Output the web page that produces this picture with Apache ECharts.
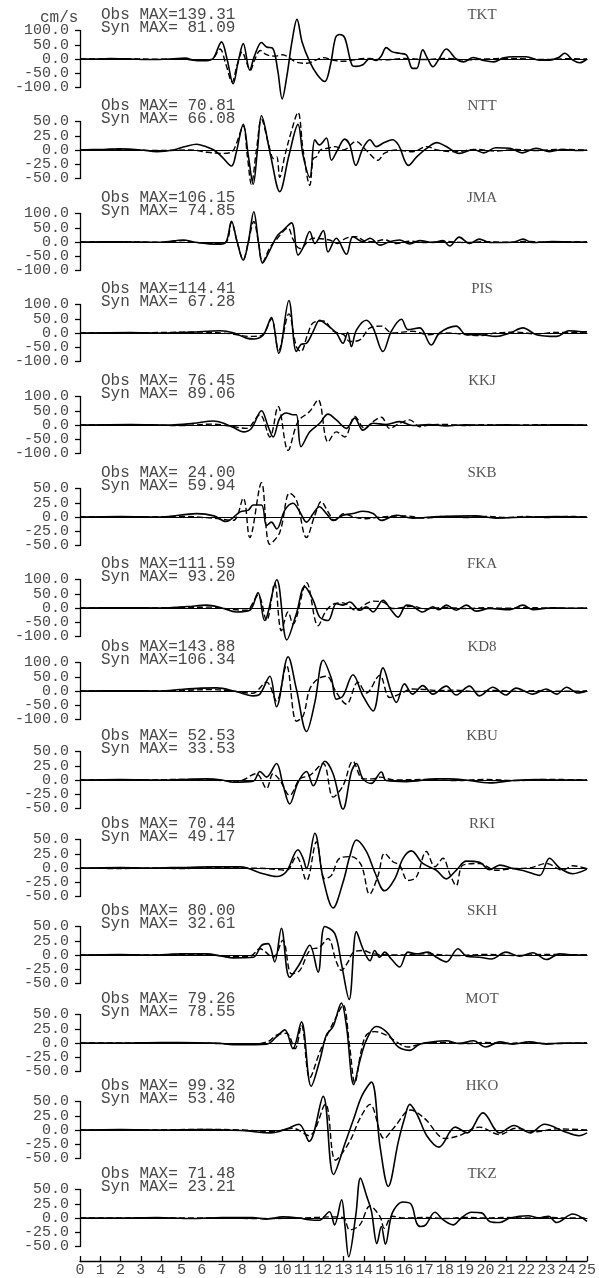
<!DOCTYPE html>
<html>
<head>
<meta charset="utf-8">
<script src="https://cdn.jsdelivr.net/npm/echarts@6/dist/echarts.min.js"></script>
<style>html,body{margin:0;padding:0;background:#fff}#c{width:599px;height:1278px}</style>
</head>
<body>
<div id="c"></div>
<script>
// ---- data ----
const stations = ['TKT','NTT','JMA','PIS','KKJ','SKB','FKA','KD8','KBU','RKI','SKH','MOT','HKO','TKZ'];
const obsMax = ['139.31',' 70.81','106.15','114.41',' 76.45',' 24.00','111.59','143.88',' 52.53',' 70.44',' 80.00',' 79.26',' 99.32',' 71.48'];
const synMax = [' 81.09',' 66.08',' 74.85',' 67.28',' 89.06',' 59.94',' 93.20','106.34',' 33.53',' 49.17',' 32.61',' 78.55',' 53.40',' 23.21'];
const axisMax = [100,50,100,100,100,50,100,100,50,50,50,50,50,50];
const timeTicks = [0,1,2,3,4,5,6,7,8,9,10,11,12,13,14,15,16,17,18,19,20,21,22,23,24,25];

const obsTKT = [[0,0],[1,0],[1.5,2],[2.5,0],[3.5,-2],[4.5,0],[5.2,3],[5.6,-4],[6.0,-6],[6.4,-4],[6.6,5],[6.98,60],[7.25,0],[7.55,-87],[7.8,-10],[8.05,54],[8.37,-39],[8.6,10],[8.95,58],[9.2,42],[9.5,38],[9.75,-40],[9.97,-140],[10.2,-60],[10.45,60],[10.7,139],[10.95,60],[11.33,-10],[11.7,-55],[12.07,-79],[12.35,-20],[12.6,75],[12.8,86],[13.05,75],[13.4,-20],[13.6,-26],[13.95,-20],[14.3,2],[14.6,-5],[14.85,10],[15.1,40],[15.4,25],[15.76,20],[16.1,14],[16.4,-33],[16.6,-33],[16.9,32],[17.15,0],[17.4,-27],[17.7,0],[18.06,35],[18.55,0],[18.9,-10],[19.4,5],[19.9,-5],[20.4,-10],[20.85,3],[21.35,8],[22.0,8],[22.66,-4],[23.15,-4],[23.6,5],[23.9,20],[24.3,-4],[24.63,-13],[25,0]];
const synTKT = [[0,0],[2,1],[4,-1],[5,0],[5.5,-3],[6.3,-5],[6.6,5],[6.9,35],[7.2,-20],[7.5,-81],[7.75,-20],[8.0,25],[8.2,-10],[8.4,-40],[8.6,-5],[8.9,30],[9.2,15],[9.6,10],[10.0,15],[10.3,5],[10.7,-12],[11.2,-15],[11.6,-5],[12.0,5],[12.5,-5],[13.0,-8],[13.5,-3],[14,2],[15,-3],[16,2],[17,-2],[18,2],[19,-3],[20,0],[21,2],[22,0],[23,-2],[24,1],[25,0]];

const obsNTT = [[0,0],[1,1],[2,2],[3,0],[3.8,-3],[4.6,0],[5.2,6],[5.75,10],[6.2,6],[6.6,0],[7.0,-12],[7.47,-28],[7.7,-5],[8.05,45],[8.3,-10],[8.54,-60],[8.75,0],[8.95,60],[9.4,-10],[9.85,-73],[10.3,-10],[10.75,45],[11.0,-10],[11.33,-48],[11.58,18],[11.8,9],[12.15,21],[12.4,-18],[12.7,0],[13.05,19],[13.3,9],[13.6,-27],[13.95,3],[14.3,18],[14.6,6],[15.0,13],[15.4,18],[15.7,9],[16.2,-27],[16.6,-12],[17.1,3],[17.6,13],[18.06,6],[18.7,-6],[19.4,1],[19.9,-5],[20.5,4],[21.2,3],[21.8,-5],[22.5,3],[23.15,-3],[23.8,1],[24.6,-1],[25,0]];
const synNTT = [[0,0],[2,1],[4,-1],[5.5,0],[6.3,-4],[7.0,-6],[7.5,-3],[7.7,10],[8.05,42],[8.25,-10],[8.45,-60],[8.7,0],[8.95,54],[9.3,10],[9.55,-15],[9.7,-12],[9.85,-48],[10.1,-10],[10.4,30],[10.75,66],[11.0,0],[11.33,-62],[11.5,-15],[11.66,-12],[11.85,0],[12.2,3],[12.6,6],[13.0,0],[13.6,15],[14.1,0],[14.7,-18],[15.0,-6],[15.6,0],[16.4,-3],[17.1,6],[17.6,0],[18.5,-3],[19.5,1],[20.5,-2],[21.5,1],[22.5,-1],[23.5,1],[25,0]];

const obsJMA = [[0,0],[2,1],[4,-1],[5.1,7],[5.6,0],[6.2,-5],[6.8,-8],[7.2,0],[7.47,73],[7.75,0],[8.05,-64],[8.3,0],[8.57,106],[8.8,0],[9.0,-74],[9.36,-29],[9.7,19],[10.0,40],[10.43,67],[10.75,-46],[11.0,-20],[11.33,37],[11.58,-5],[12.0,40],[12.23,-35],[12.64,13],[13.14,-43],[13.46,19],[13.95,1],[14.3,13],[14.8,-11],[15.27,1],[15.76,7],[16.26,-7],[16.75,5],[17.4,-2],[17.9,5],[18.23,-14],[18.7,17],[19.2,-5],[19.7,10],[20.2,-2],[21.35,-1],[21.85,10],[22.3,-2],[23.3,2],[24.3,0],[25,0]];
const synJMA = [[0,0],[2,1],[4,-1],[5.1,5],[5.6,0],[6.5,-6],[7.2,0],[7.47,68],[7.75,0],[8.05,-62],[8.3,0],[8.57,72],[8.8,0],[9.0,-70],[9.36,-20],[9.7,10],[10.26,49],[10.5,10],[10.84,-23],[11.5,13],[12.3,7],[12.7,-5],[13.1,13],[13.6,19],[14.0,5],[14.45,1],[15.0,8],[15.6,-5],[16.3,3],[17.0,-2],[18,2],[19,-2],[20,1],[21,-1],[22,2],[23,-1],[24,1],[25,0]];

const obsPIS = [[0,0],[2.5,2],[4,0],[5.5,3],[6.9,8],[7.6,0],[8.2,-18],[8.6,-21],[8.9,-15],[9.1,0],[9.44,54],[9.8,-71],[10.3,114],[10.67,-65],[10.9,-40],[11.17,-36],[11.5,6],[11.82,45],[12.15,30],[12.64,0],[12.97,-36],[13.2,2],[13.38,-48],[13.63,10],[14.12,45],[14.45,18],[14.94,-65],[15.35,6],[15.85,48],[16.17,12],[16.75,18],[17.32,-42],[17.73,0],[18.55,24],[19.05,-6],[19.7,-6],[20.5,-12],[21.2,0],[21.84,18],[22.5,-6],[23.5,-12],[24.1,8],[24.6,5],[25,4]];
const synPIS = [[0,0],[3,1],[6,3],[7.5,-3],[8.3,-12],[8.9,-10],[9.1,0],[9.44,50],[9.8,-60],[10.3,67],[10.67,-48],[10.9,-65],[11.2,-10],[11.5,36],[12.0,42],[12.5,6],[13.0,-6],[13.3,-30],[13.8,-24],[14.3,18],[14.86,24],[15.4,0],[16.4,6],[17.2,-6],[18.06,0],[19.7,-9],[20.5,0],[21.5,3],[22.5,-3],[23.5,2],[25,0]];

const obsKKJ = [[0,0],[2.5,2],[4.5,0],[5.6,6],[6.57,14],[7.2,3],[7.6,-10],[8.05,-24],[8.45,-12],[8.95,50],[9.28,-6],[9.52,-42],[9.85,24],[10.18,42],[10.5,36],[10.67,36],[10.9,-76],[11.33,-24],[11.82,6],[12.23,38],[12.64,18],[13.14,-12],[13.55,24],[13.95,-18],[14.45,6],[15.1,2],[15.76,12],[16.4,-2],[17.2,2],[18.06,-3],[19,1],[20,-1],[21,1],[22,-1],[23,0],[24,1],[25,0]];
const synKKJ = [[0,0],[3,0],[5,-2],[6.5,3],[7.5,-5],[8.2,-12],[8.87,36],[9.36,-42],[9.77,65],[10.26,-89],[10.75,12],[11.33,48],[11.74,89],[12.23,-60],[12.64,-24],[13.05,-42],[13.55,30],[14.04,-12],[14.45,12],[14.86,27],[15.27,-12],[15.76,6],[16.26,18],[16.75,-6],[17.24,0],[18.06,2],[19,-2],[20,1],[21,-1],[22,0],[23,1],[24,-1],[25,0]];

const obsSKB = [[0,0],[2,1],[4,0],[5.75,6],[6.6,2],[7.2,-8],[7.9,9],[8.3,12],[8.54,21],[8.95,21],[9.2,-15],[9.44,-9],[9.7,-21],[10.1,12],[10.5,24],[10.84,9],[11.17,-9],[11.5,6],[11.8,18],[12.15,6],[12.48,-6],[12.97,3],[13.46,6],[13.95,10],[14.45,6],[14.86,-6],[15.6,3],[16.4,-2],[17.7,1],[19.5,2],[20.5,-2],[22,0],[23.5,1],[25,0]];
const synSKB = [[0,0],[3,0],[5,1],[6.5,-2],[7.55,-6],[8.05,33],[8.37,-36],[8.95,60],[9.36,-48],[9.85,-27],[10.34,42],[10.67,30],[11.17,-36],[11.58,3],[11.9,27],[12.23,9],[12.56,-6],[13.0,6],[13.5,0],[14.1,-3],[14.8,0],[16,2],[17,-2],[18,1],[19,-1],[20,1],[21,-1],[22,1],[23,-1],[24,1],[25,0]];

const obsFKA = [[0,0],[2,1],[4,0],[5.3,5],[6.24,10],[7.0,0],[7.7,-14],[8.37,-8],[8.78,54],[9.1,-44],[9.7,99],[10.2,-112],[10.67,-20],[11.08,75],[11.5,27],[11.82,-32],[12.23,-44],[12.64,15],[12.97,10],[13.3,21],[13.8,-8],[14.12,4],[14.45,-14],[14.94,27],[15.35,-8],[15.68,-32],[16.1,10],[16.4,6],[16.9,-14],[17.4,4],[17.7,-6],[18.06,10],[18.55,-8],[19.05,10],[19.54,-11],[20.2,-2],[21.2,-6],[21.84,10],[22.33,-6],[23.3,1],[24.3,-1],[25,0]];
const synFKA = [[0,0],[3,0],[5,2],[6.5,3],[7.5,-5],[8.2,-8],[8.78,45],[9.2,-44],[9.6,87],[9.93,-80],[10.26,-14],[10.5,-56],[11.17,89],[11.74,-62],[12.15,-8],[12.56,15],[12.97,18],[13.6,-8],[14.12,15],[14.45,24],[14.94,21],[15.43,-2],[16.1,4],[16.4,6],[17.0,-3],[18,2],[19,-2],[20,1],[21,-1],[22,1],[23,0],[24,-1],[25,0]];

const obsKD8 = [[0,0],[2,1],[4,0],[4.9,5],[6.0,10],[6.73,11],[7.7,-2],[8.54,-17],[8.87,-11],[9.36,52],[9.69,-55],[10.26,120],[10.67,7],[11.17,-142],[11.58,-40],[11.99,108],[12.4,43],[12.64,-29],[12.97,-17],[13.46,57],[13.95,-17],[14.45,-70],[14.94,81],[15.35,-5],[15.6,-40],[16.0,25],[16.4,-11],[16.9,19],[17.4,-11],[18.06,17],[18.55,-14],[19.2,17],[19.7,-17],[20.36,13],[21.0,-14],[21.5,10],[22.33,-11],[22.99,7],[23.5,-11],[24.0,13],[24.55,-7],[25,0]];
const synKD8 = [[0,0],[3,0],[5,2],[6.5,5],[7.5,0],[8.5,-8],[9.2,31],[9.69,-35],[10.18,90],[10.67,-106],[11.0,-88],[11.33,7],[11.74,43],[12.15,52],[12.64,-5],[13.14,-46],[13.7,31],[14.12,-7],[14.78,55],[15.27,-23],[15.76,-11],[16.4,7],[17.1,5],[17.7,1],[18.5,3],[19.5,-2],[20.5,2],[21.5,-1],[22.5,1],[23.5,-1],[25,0]];

const obsKBU = [[0,0],[2,1],[4,0],[5,1],[6.24,2],[7.0,0],[7.55,-4],[8.54,-2],[8.87,15],[9.2,5],[9.69,29],[10.0,-7],[10.34,-42],[10.75,-4],[11.17,15],[11.5,-10],[12.07,33],[12.48,11],[12.97,-51],[13.38,14],[13.63,29],[13.95,2],[14.36,-6],[14.86,14],[15.1,-1],[16.1,-3],[17.6,2],[18.2,2],[19,0],[20.2,-5],[21.35,-1],[22.5,1],[23.5,0],[25,0]];
const synKBU = [[0,0],[3,0],[5,1],[6.5,0],[7.8,-2],[8.7,11],[9.2,-15],[9.52,11],[9.85,0],[10.34,-27],[10.84,2],[11.33,8],[11.99,29],[12.48,-30],[12.97,-10],[13.46,33],[13.95,2],[14.45,2],[14.8,5],[15.5,0],[17,1],[18.5,-1],[20,1],[21.5,-1],[23,1],[25,0]];

const obsRKI = [[0,0],[2,1],[3.5,0],[5,1],[6.5,2],[7.9,2],[9.03,-10],[9.69,-15],[10.18,-6],[10.75,32],[11.0,17],[11.17,-1],[11.58,61],[11.99,-19],[12.48,-70],[12.97,-25],[13.3,20],[13.63,49],[14.12,29],[14.53,-7],[15.02,-40],[15.52,-19],[15.93,17],[16.34,30],[16.9,8],[17.57,-4],[18.06,-19],[18.55,-4],[19.05,12],[19.7,10],[20.2,-3],[20.7,5],[21.35,-1],[22.0,-6],[22.66,-13],[23.15,17],[23.65,0],[24.3,-10],[25,-2]];
const synRKI = [[0,0],[2,-1],[3.5,0],[5,-1],[6.5,1],[8,0],[9.2,-1],[10.18,-4],[10.67,20],[11.17,-22],[11.66,46],[12.07,-19],[12.4,-13],[12.8,17],[13.38,20],[13.87,5],[14.28,-46],[14.7,-13],[15.02,26],[15.43,11],[15.76,5],[16.17,-22],[16.58,-16],[17.08,29],[17.5,2],[17.9,17],[18.23,-10],[18.55,-31],[18.88,5],[19.7,8],[20.5,-4],[21.35,-1],[22.17,0],[23.0,8],[23.8,-4],[24.3,4],[25,-1]];

const obsSKH = [[0,0],[2,1],[3.5,0],[5,2],[6.24,2],[7.0,-2],[7.55,-5],[8.54,-4],[8.95,17],[9.28,20],[9.6,-12],[9.93,47],[10.34,-39],[10.84,-15],[11.33,17],[11.74,-30],[12.07,50],[12.56,38],[12.89,-15],[13.27,-78],[13.63,41],[13.95,11],[14.3,-10],[14.53,8],[14.78,-4],[15.02,5],[15.35,-7],[15.76,-21],[16.17,5],[16.58,2],[17.16,5],[17.57,-4],[18.06,-12],[18.64,11],[19.05,-2],[19.7,-4],[20.28,-7],[21.0,5],[21.67,-2],[22.33,4],[23.0,-8],[23.65,2],[24.47,0],[25,0]];
const synSKH = [[0,0],[3,0],[5,1],[6.5,0],[7.5,-3],[8.4,-2],[8.87,11],[9.52,-4],[10.0,26],[10.43,-33],[10.84,-27],[11.33,8],[11.82,14],[12.23,29],[12.64,-12],[12.89,-27],[13.22,-12],[13.46,4],[13.95,8],[14.45,2],[15.5,0],[17,2],[18.5,-1],[20,1],[21.5,-1],[23,1],[25,0]];

const obsMOT = [[0,0],[2,0],[4,1],[4.9,1],[6.57,0],[7.9,-3],[9.2,-2],[9.69,11],[10.1,23],[10.5,-10],[10.92,37],[11.4,-76],[11.82,-31],[12.15,14],[12.48,29],[12.89,70],[13.14,29],[13.5,-73],[13.8,-31],[14.12,5],[14.6,29],[15.1,20],[15.6,-4],[15.85,-10],[16.26,-13],[16.75,-2],[17.4,2],[18.06,4],[18.7,-1],[19.4,4],[20.0,-7],[20.7,2],[21.35,-2],[22.17,2],[23.0,-2],[23.8,0],[25,0]];
const synMOT = [[0,0],[3,0],[5,0],[7,-1],[8.5,-2],[9.3,3],[9.69,14],[10.18,17],[10.6,-10],[10.92,31],[11.33,-61],[11.82,-16],[12.23,17],[12.64,46],[12.97,67],[13.3,-7],[13.55,-70],[13.87,-13],[14.12,14],[14.53,20],[15.1,14],[15.6,2],[16.17,-7],[16.9,-1],[18,1],[19,-1],[20,1],[21,-1],[22,1],[23,-1],[25,0]];

const obsHKO = [[0,0],[2,1],[4,0],[6,1],[8,-1],[9.4,-5],[10.2,2],[10.8,10],[11.3,-20],[11.99,59],[12.5,-78],[13.1,-20],[13.5,20],[13.9,60],[14.37,84],[14.8,-30],[15.2,-99],[15.7,-20],[16.0,20],[16.26,45],[16.65,25],[17.1,-10],[17.7,-30],[18.5,5],[19.1,-5],[19.87,30],[20.7,-5],[21.4,8],[22.2,-5],[22.9,10],[23.9,-3],[24.6,-10],[25,-5]];
const synHKO = [[0,0],[3,0],[6,1],[8,0],[9.5,-3],[10.5,3],[11.3,-10],[12.1,45],[12.6,-53],[13.3,-20],[13.8,20],[14.3,45],[15.0,-15],[15.5,5],[16.3,35],[17.0,20],[18.0,-15],[18.7,-10],[19.7,5],[20.7,-8],[21.5,3],[22.5,-3],[23.5,2],[25,0]];

const obsTKZ = [[0,0],[2,0],[3.8,1],[5.5,-1],[7,1],[8.5,1],[9.2,-2],[10,2],[10.8,0],[11.3,-3],[11.8,-4],[12.3,11],[12.55,-12],[12.9,32],[13.07,-15],[13.25,-68],[13.6,5],[13.83,70],[14.13,39],[14.37,12],[14.64,-45],[14.86,-15],[15.06,-46],[15.4,9],[15.92,28],[16.33,24],[16.6,-9],[16.8,-15],[17.05,-12],[17.5,10],[17.9,-3],[18.4,-12],[18.8,0],[19.3,10],[19.8,9],[20.2,-6],[20.7,-8],[21.2,0],[22.1,4],[22.6,0],[23.1,3],[23.5,-8],[24.3,7],[25,-6]];
const synTKZ = [[0,0],[3,0],[6,0],[9,-1],[11,0],[12.5,2],[13.0,0],[13.3,-21],[13.8,-12],[14.3,21],[14.8,2],[15.0,-18],[15.4,3],[16,0],[17,1],[18,-1],[19,1],[20,0],[21,1],[22,0],[23,1],[24,0],[25,0]];

const obsData = [obsTKT,obsNTT,obsJMA,obsPIS,obsKKJ,obsSKB,obsFKA,obsKD8,obsKBU,obsRKI,obsSKH,obsMOT,obsHKO,obsTKZ];
const synData = [synTKT,synNTT,synJMA,synPIS,synKKJ,synSKB,synFKA,synKD8,synKBU,synRKI,synSKH,synMOT,synHKO,synTKZ];

// ---- layout ----
const zeroY = [59,150,242,333,425,517,608,691,780,868,955,1043,1130,1218];
const LEFT = 80, WIDTH = 507, HALF = 28.5;
const MONO = '"Liberation Mono", "DejaVu Sans Mono", monospace';
const SERIF = '"Liberation Serif", "DejaVu Serif", serif';
const TXT = '#484848';

const labelStyle = {show: true, margin: 11, hideOverlap: false, showMinLabel: true, showMaxLabel: true,
  formatter: v => Number(v).toFixed(1), fontFamily: MONO, fontSize: 15, color: TXT};

const grid = [], xAxis = [], yAxis = [], series = [], graphic = [];
stations.forEach((name, i) => {
  const z = zeroY[i], m = axisMax[i];
  grid.push({left: LEFT, width: WIDTH, top: z - HALF, height: HALF * 2});
  xAxis.push({gridIndex: i, type: 'value', min: 0, max: 25,
    axisLine: {show: true, onZero: true, lineStyle: {color: '#000', width: 1.2}},
    axisTick: {show: false}, axisLabel: {show: false}, splitLine: {show: false}});
  // main y axis: line, all ticks, zero label
  yAxis.push({gridIndex: i, type: 'value', min: -m, max: m, interval: m / 2,
    axisLine: {show: true, onZero: false, lineStyle: {color: '#000', width: 1.3}},
    axisTick: {show: true, inside: false, length: 5, customValues: [-m, -m / 2, 0, m / 2, m], lineStyle: {color: '#000', width: 1.3}},
    axisLabel: Object.assign({}, labelStyle, {customValues: [0]}),
    splitLine: {show: false}});
  // companion axes carrying the other labels (two per axis, so none overlap)
  yAxis.push({gridIndex: i, type: 'value', min: -m, max: m, interval: m, position: 'left', offset: 0,
    axisLine: {show: false}, axisTick: {show: false},
    axisLabel: Object.assign({}, labelStyle, {customValues: [-m, m]}),
    splitLine: {show: false}});
  yAxis.push({gridIndex: i, type: 'value', min: -m, max: m, interval: m / 2, position: 'left', offset: 0,
    axisLine: {show: false}, axisTick: {show: false},
    axisLabel: Object.assign({}, labelStyle, {customValues: [-m / 2, m / 2]}),
    splitLine: {show: false}});
  series.push({type: 'line', xAxisIndex: i, yAxisIndex: 3 * i, data: synData[i], showSymbol: false,
    smooth: 0.35, clip: false, silent: true, z: 3,
    lineStyle: {color: '#000', width: 1.4, type: [6, 3]}});
  series.push({type: 'line', xAxisIndex: i, yAxisIndex: 3 * i, data: obsData[i], showSymbol: false,
    smooth: 0.35, clip: false, silent: true, z: 4,
    lineStyle: {color: '#000', width: 1.6}});
  graphic.push({type: 'text', x: 101, y: z - 44, style: {text: 'Obs MAX=' + obsMax[i], font: '16px ' + MONO, fill: TXT, textAlign: 'left', textVerticalAlign: 'middle'}});
  graphic.push({type: 'text', x: 101, y: z - 31.5, style: {text: 'Syn MAX=' + synMax[i], font: '16px ' + MONO, fill: TXT, textAlign: 'left', textVerticalAlign: 'middle'}});
  graphic.push({type: 'text', x: 482, y: z - 43.5, style: {text: name, font: '15px ' + SERIF, fill: '#555', textAlign: 'center', textVerticalAlign: 'middle'}});
});
graphic.push({type: 'text', x: 40, y: 18, style: {text: 'cm/s', font: '16px ' + MONO, fill: TXT, textAlign: 'left', textVerticalAlign: 'middle'}});

// bottom time axis
const bi = stations.length;
grid.push({left: LEFT, width: WIDTH, top: 1258, height: 5});
xAxis.push({gridIndex: bi, type: 'value', min: timeTicks[0], max: timeTicks[timeTicks.length - 1], interval: 1, position: 'bottom',
  axisLine: {show: true, onZero: false, lineStyle: {color: '#000', width: 1.3}},
  axisTick: {show: true, inside: true, length: 5, customValues: timeTicks, lineStyle: {color: '#000', width: 1.3}},
  axisLabel: {show: true, margin: 2, customValues: timeTicks, fontFamily: MONO, fontSize: 15, color: TXT},
  splitLine: {show: false}});
yAxis.push({gridIndex: bi, type: 'value', min: 0, max: 1, show: false});

const chart = echarts.init(document.getElementById('c'), null, {renderer: 'canvas'});
chart.setOption({animation: false, backgroundColor: '#fff', grid, xAxis, yAxis, series, graphic});
</script>
</body>
</html>
